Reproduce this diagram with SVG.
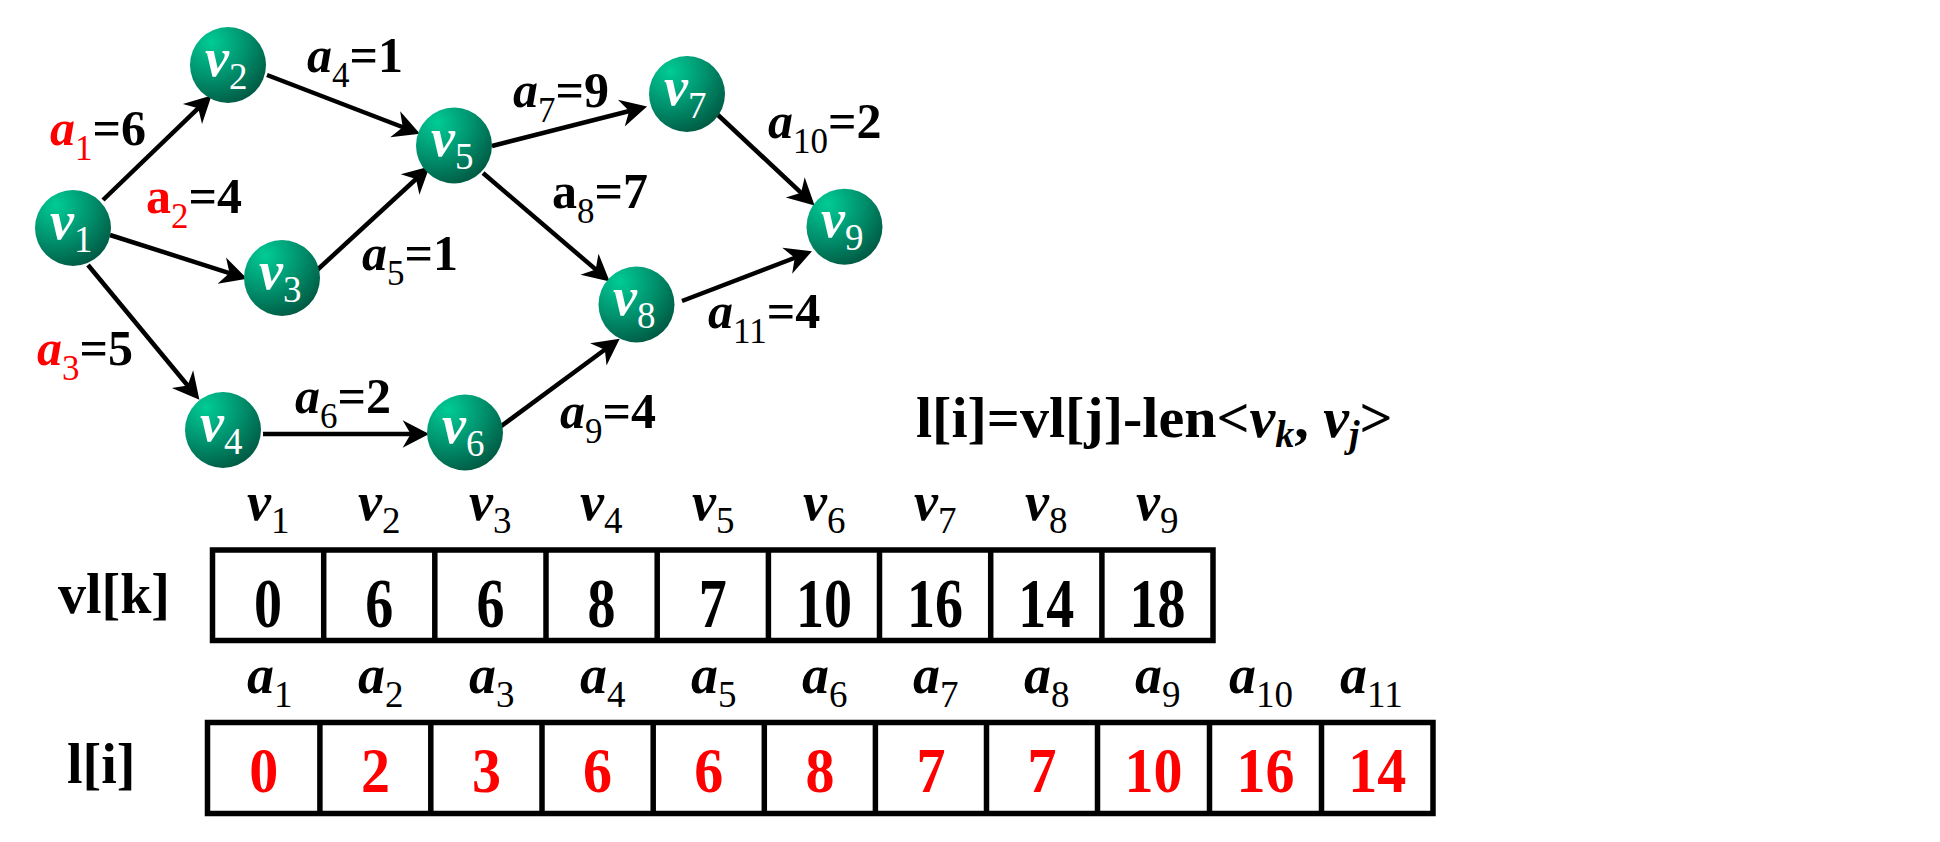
<svg xmlns="http://www.w3.org/2000/svg" width="1940" height="842" viewBox="0 0 1940 842">
<style>
text{font-family:"Liberation Serif","Times New Roman",serif;font-weight:bold}
.nl{fill:#fff;font-size:54px}
.it{font-style:italic}
.sub{font-weight:normal;font-style:normal;font-size:35px}
.nsub{font-weight:normal;font-style:normal;font-size:37px}
.el{font-size:50px;fill:#000}
.red{fill:#ff0000}
.edge{stroke:#000;stroke-width:4.5;fill:none;marker-end:url(#arr)}
.cell{fill:#fff;stroke:#000;stroke-width:5.5}
.div{stroke:#000;stroke-width:5.5}
.hd{font-size:54px}
.hsub{font-weight:normal;font-size:37px}
.vv{font-size:56px;text-anchor:middle}
.lv{font-size:58px;text-anchor:middle;fill:#ff0000}
.lab{font-size:56px}
</style>
<defs>
<radialGradient id="ball" cx="0.28" cy="0.2" r="0.85">
<stop offset="0" stop-color="#00cc96"/>
<stop offset="0.55" stop-color="#00916d"/>
<stop offset="1" stop-color="#005c45"/>
</radialGradient>
<marker id="arr" markerUnits="userSpaceOnUse" markerWidth="30" markerHeight="30" viewBox="0 -13 24 26" refX="9" refY="0" orient="auto">
<path d="M0,-12 L23,0 L0,12 L7,0 Z" fill="#000"/>
</marker>
</defs>
<rect width="1940" height="842" fill="#fff"/>

<g id="connectors">
<line class="edge" x1="103" y1="200" x2="199.9" y2="106.7"/>
<line class="edge" x1="110" y1="235" x2="231.7" y2="273.8"/>
<line class="edge" x1="88" y1="265" x2="189.1" y2="387.2"/>
<line class="edge" x1="267" y1="75" x2="404.9" y2="128"/>
<line class="edge" x1="315" y1="272" x2="417.7" y2="177.5"/>
<line class="edge" x1="263" y1="434" x2="413" y2="434"/>
<line class="edge" x1="492" y1="146" x2="631.4" y2="110.5"/>
<line class="edge" x1="483" y1="173" x2="597.4" y2="270.9"/>
<line class="edge" x1="718" y1="115" x2="802.8" y2="194.4"/>
<line class="edge" x1="682" y1="301" x2="796.9" y2="257"/>
<line class="edge" x1="500" y1="427" x2="606.7" y2="348.3"/>
<text class="el" x="50" y="145"><tspan class="it red">a</tspan><tspan class="sub red" dy="15">1</tspan><tspan dy="-15">=6</tspan></text>
<text class="el" x="146" y="213"><tspan class="red">a</tspan><tspan class="sub red" dy="15">2</tspan><tspan dy="-15">=4</tspan></text>
<text class="el" x="37" y="365"><tspan class="it red">a</tspan><tspan class="sub red it" dy="15">3</tspan><tspan dy="-15">=5</tspan></text>
<text class="el" x="307" y="72"><tspan class="it">a</tspan><tspan class="sub" dy="15">4</tspan><tspan dy="-15">=1</tspan></text>
<text class="el" x="362" y="270"><tspan class="it">a</tspan><tspan class="sub" dy="15">5</tspan><tspan dy="-15">=1</tspan></text>
<text class="el" x="295" y="413"><tspan class="it">a</tspan><tspan class="sub" dy="15">6</tspan><tspan dy="-15">=2</tspan></text>
<text class="el" x="513" y="107"><tspan class="it">a</tspan><tspan class="sub" dy="15">7</tspan><tspan dy="-15">=9</tspan></text>
<text class="el" x="552" y="208"><tspan>a</tspan><tspan class="sub" dy="15">8</tspan><tspan dy="-15">=7</tspan></text>
<text class="el" x="560" y="428"><tspan class="it">a</tspan><tspan class="sub" dy="15">9</tspan><tspan dy="-15">=4</tspan></text>
<text class="el" x="768" y="138"><tspan class="it">a</tspan><tspan class="sub" dy="15">10</tspan><tspan dy="-15">=2</tspan></text>
<text class="el" x="708" y="328"><tspan class="it">a</tspan><tspan class="sub" dy="15">11</tspan><tspan dy="-15">=4</tspan></text>
</g>

<g id="v1"><circle cx="73" cy="228" r="38" fill="url(#ball)"/><text class="nl" x="50" y="239"><tspan class="it">v</tspan><tspan class="nsub" dy="13">1</tspan></text></g>
<g id="v2"><circle cx="228" cy="65" r="38" fill="url(#ball)"/><text class="nl" x="205" y="76"><tspan class="it">v</tspan><tspan class="nsub" dy="13">2</tspan></text></g>
<g id="v3"><circle cx="282" cy="278" r="38" fill="url(#ball)"/><text class="nl" x="259" y="289"><tspan class="it">v</tspan><tspan class="nsub" dy="13">3</tspan></text></g>
<g id="v4"><circle cx="223" cy="430" r="38" fill="url(#ball)"/><text class="nl" x="200" y="441"><tspan class="it">v</tspan><tspan class="nsub" dy="13">4</tspan></text></g>
<g id="v5"><circle cx="454" cy="145.5" r="38" fill="url(#ball)"/><text class="nl" x="431" y="156"><tspan class="it">v</tspan><tspan class="nsub" dy="13">5</tspan></text></g>
<g id="v6"><circle cx="465" cy="432.5" r="38" fill="url(#ball)"/><text class="nl" x="442" y="443"><tspan class="it">v</tspan><tspan class="nsub" dy="13">6</tspan></text></g>
<g id="v7"><circle cx="687" cy="94" r="38" fill="url(#ball)"/><text class="nl" x="664" y="105"><tspan class="it">v</tspan><tspan class="nsub" dy="13">7</tspan></text></g>
<g id="v8"><circle cx="636.5" cy="304.5" r="38" fill="url(#ball)"/><text class="nl" x="613" y="315"><tspan class="it">v</tspan><tspan class="nsub" dy="13">8</tspan></text></g>
<g id="v9"><circle cx="844.5" cy="226.7" r="38" fill="url(#ball)"/><text class="nl" x="821" y="237"><tspan class="it">v</tspan><tspan class="nsub" dy="13">9</tspan></text></g>

<g id="formula">
<text x="916" y="437" font-size="58">l[i]=vl[j]-len&lt;<tspan class="it">v</tspan><tspan class="it" font-size="38" dy="10">k</tspan><tspan dy="-10">, </tspan><tspan class="it">v</tspan><tspan class="it" font-size="38" dy="10">j</tspan><tspan dy="-10">&gt;</tspan></text>
</g>

<g id="vl-table">
<text class="lab" x="58" y="613">vl[k]</text>
<rect class="cell" x="212.5" y="550" width="1000.5" height="90.5"/>
<line class="div" x1="323.7" y1="550" x2="323.7" y2="640.5"/>
<line class="div" x1="434.8" y1="550" x2="434.8" y2="640.5"/>
<line class="div" x1="546" y1="550" x2="546" y2="640.5"/>
<line class="div" x1="657.2" y1="550" x2="657.2" y2="640.5"/>
<line class="div" x1="768.4" y1="550" x2="768.4" y2="640.5"/>
<line class="div" x1="879.5" y1="550" x2="879.5" y2="640.5"/>
<line class="div" x1="990.7" y1="550" x2="990.7" y2="640.5"/>
<line class="div" x1="1101.9" y1="550" x2="1101.9" y2="640.5"/>
<g class="hd">
<text x="247" y="520"><tspan class="it">v</tspan><tspan class="hsub" dy="13">1</tspan></text>
<text x="358" y="520"><tspan class="it">v</tspan><tspan class="hsub" dy="13">2</tspan></text>
<text x="469" y="520"><tspan class="it">v</tspan><tspan class="hsub" dy="13">3</tspan></text>
<text x="580" y="520"><tspan class="it">v</tspan><tspan class="hsub" dy="13">4</tspan></text>
<text x="692" y="520"><tspan class="it">v</tspan><tspan class="hsub" dy="13">5</tspan></text>
<text x="803" y="520"><tspan class="it">v</tspan><tspan class="hsub" dy="13">6</tspan></text>
<text x="914" y="520"><tspan class="it">v</tspan><tspan class="hsub" dy="13">7</tspan></text>
<text x="1025" y="520"><tspan class="it">v</tspan><tspan class="hsub" dy="13">8</tspan></text>
<text x="1136" y="520"><tspan class="it">v</tspan><tspan class="hsub" dy="13">9</tspan></text>
</g>
<text class="vv" transform="translate(268.1,627) scale(1,1.25)">0</text>
<text class="vv" transform="translate(379.2,627) scale(1,1.25)">6</text>
<text class="vv" transform="translate(490.4,627) scale(1,1.25)">6</text>
<text class="vv" transform="translate(601.6,627) scale(1,1.25)">8</text>
<text class="vv" transform="translate(712.8,627) scale(1,1.25)">7</text>
<text class="vv" transform="translate(823.9,627) scale(1,1.25)">10</text>
<text class="vv" transform="translate(935.1,627) scale(1,1.25)">16</text>
<text class="vv" transform="translate(1046.3,627) scale(1,1.25)">14</text>
<text class="vv" transform="translate(1157.4,627) scale(1,1.25)">18</text>
</g>

<g id="l-table">
<text class="lab" x="67" y="783">l[i]</text>
<rect class="cell" x="207.5" y="722.5" width="1225.5" height="91"/>
<line class="div" x1="319.9" y1="722.5" x2="319.9" y2="813.5"/>
<line class="div" x1="430.8" y1="722.5" x2="430.8" y2="813.5"/>
<line class="div" x1="542" y1="722.5" x2="542" y2="813.5"/>
<line class="div" x1="653.2" y1="722.5" x2="653.2" y2="813.5"/>
<line class="div" x1="764.3" y1="722.5" x2="764.3" y2="813.5"/>
<line class="div" x1="875.4" y1="722.5" x2="875.4" y2="813.5"/>
<line class="div" x1="986.5" y1="722.5" x2="986.5" y2="813.5"/>
<line class="div" x1="1097.5" y1="722.5" x2="1097.5" y2="813.5"/>
<line class="div" x1="1209.5" y1="722.5" x2="1209.5" y2="813.5"/>
<line class="div" x1="1321.5" y1="722.5" x2="1321.5" y2="813.5"/>
<g class="hd">
<text x="247" y="693"><tspan class="it">a</tspan><tspan class="hsub" dy="14">1</tspan></text>
<text x="358" y="693"><tspan class="it">a</tspan><tspan class="hsub" dy="14">2</tspan></text>
<text x="469" y="693"><tspan class="it">a</tspan><tspan class="hsub" dy="14">3</tspan></text>
<text x="580" y="693"><tspan class="it">a</tspan><tspan class="hsub" dy="14">4</tspan></text>
<text x="691" y="693"><tspan class="it">a</tspan><tspan class="hsub" dy="14">5</tspan></text>
<text x="802" y="693"><tspan class="it">a</tspan><tspan class="hsub" dy="14">6</tspan></text>
<text x="913" y="693"><tspan class="it">a</tspan><tspan class="hsub" dy="14">7</tspan></text>
<text x="1024" y="693"><tspan class="it">a</tspan><tspan class="hsub" dy="14">8</tspan></text>
<text x="1135" y="693"><tspan class="it">a</tspan><tspan class="hsub" dy="14">9</tspan></text>
<text x="1229" y="693"><tspan class="it">a</tspan><tspan class="hsub" dy="14">10</tspan></text>
<text x="1340" y="693"><tspan class="it">a</tspan><tspan class="hsub" dy="14">11</tspan></text>
</g>
<text class="lv" transform="translate(263.7,792) scale(1,1.08)">0</text>
<text class="lv" transform="translate(375.4,792) scale(1,1.08)">2</text>
<text class="lv" transform="translate(486.4,792) scale(1,1.08)">3</text>
<text class="lv" transform="translate(597.6,792) scale(1,1.08)">6</text>
<text class="lv" transform="translate(708.8,792) scale(1,1.08)">6</text>
<text class="lv" transform="translate(819.9,792) scale(1,1.08)">8</text>
<text class="lv" transform="translate(931,792) scale(1,1.08)">7</text>
<text class="lv" transform="translate(1042,792) scale(1,1.08)">7</text>
<text class="lv" transform="translate(1153.5,792) scale(1,1.08)">10</text>
<text class="lv" transform="translate(1265.5,792) scale(1,1.08)">16</text>
<text class="lv" transform="translate(1377.2,792) scale(1,1.08)">14</text>
</g>
</svg>
